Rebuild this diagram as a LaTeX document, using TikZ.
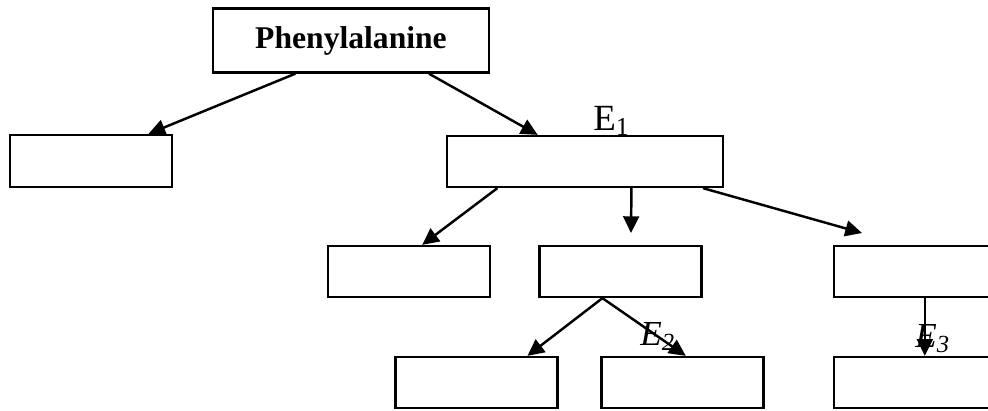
\documentclass[tikz,border=0pt]{standalone}
\usepackage{fontspec}
\setmainfont{Liberation Serif}
\usetikzlibrary{arrows.meta,calc}

\begin{document}
\begin{tikzpicture}[x=0.02cm,y=-0.02cm,every node/.style={inner sep=0pt},
    box/.style={draw,line width=1.3pt,minimum width=3.24cm,minimum height=1.02cm},
    arr/.style={-{Triangle[length=9.5pt,width=9pt]},line width=1.4pt},
    enz/.style={font=\fontsize{20}{24}\selectfont,anchor=base west}]
    \useasboundingbox (0,0) rectangle (988,410);
    \clip (0,0) rectangle (988,410);
    % top row
    \node[box,minimum width=5.52cm,minimum height=1.28cm,
          font=\fontsize{18}{22}\selectfont\bfseries] (phe) at (351,40.5) {Phenylalanine};
    % second row
    \node[box,minimum height=1.04cm] (lft) at (91,161) {};
    \node[box,minimum width=5.52cm] (ea) at (585,161.5) {};
    \draw[arr] ($(phe.south west)!0.3!(phe.south east)$) -- ($(lft.north west)!0.85!(lft.north east)$);
    \draw[arr] ($(phe.south west)!0.78!(phe.south east)$) -- ($(ea.north west)!0.33!(ea.north east)$);
    \node[enz,font=\fontsize{21}{24}\selectfont] (eone) at (593,130) {E\textsubscript{1}};
    % third row
    \node[box] (ma) at (409,271.5) {};
    \node[box] (mb) at (620.5,271.5) {};
    \node[box] (mc) at (915,271.5) {};
    \coordinate (dtip) at (631,233);
    \coordinate (ctip) at (862,233);
    \draw[arr] ($(ea.south west)!0.185!(ea.south east)$) -- ($(ma.north west)!0.58!(ma.north east)$);
    \draw[arr] ($(ea.south west)!0.667!(ea.south east)$) -- (dtip);
    \draw[arr] ($(ea.south west)!0.924!(ea.south east)$) -- (ctip);
    % fourth row
    \node[box] (la) at (476.5,382.5) {};
    \node[box] (lb) at (682.5,382.5) {};
    \node[box] (lc) at (915,382.5) {};
    \draw[arr] ($(mb.south west)!0.39!(mb.south east)$) -- ($(la.north west)!0.81!(la.north east)$);
    \draw[arr] ($(mb.south west)!0.39!(mb.south east)$) -- ($(lb.north west)!0.52!(lb.north east)$);
    \draw[arr] ($(mc.south west)!0.56!(mc.south east)$) -- ($(lc.north west)!0.56!(lc.north east)$);
    \node[enz] (etwo) at (640,345) {\itshape E\textsubscript{2}};
    \node[enz] (ethree) at (915,347) {\itshape E\textsubscript{3}};
\end{tikzpicture}
\end{document}
